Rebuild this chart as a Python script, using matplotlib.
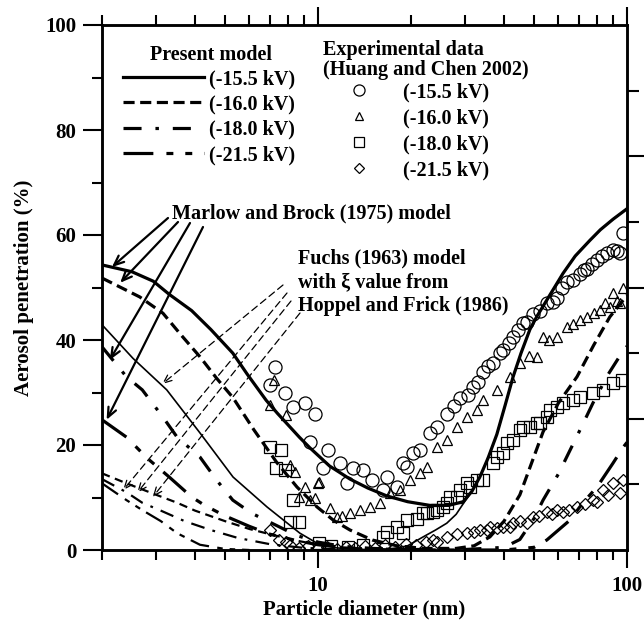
import numpy as np
import matplotlib
matplotlib.use("Agg")
import matplotlib.pyplot as plt
from matplotlib.ticker import FixedLocator, NullFormatter, FixedFormatter

plt.rcParams['font.family'] = ['Liberation Serif', 'DejaVu Serif']
plt.rcParams['font.weight'] = 'bold'
plt.rcParams['lines.scale_dashes'] = False

# ---------------- data ----------------
# Present model (thick lines)
pm155_x = [2, 2.5, 2.93, 3.3, 3.9, 4.5, 5.3, 5.9, 6.8, 7.4, 8.7, 9.4, 10.9, 12.7, 14.5, 16.7,
           19.5, 23, 26.5, 29.5, 31.5, 33.4, 35.5, 37.9, 40.3, 42.8, 45.4, 48.5, 51.1, 55, 62.1, 68,
           75.9, 82, 90.1, 100]
pm155_y = [54.3, 53.0, 51.2, 48.7, 45.6, 42.0, 37.5, 33.5, 28.5, 26.0, 21.5, 19.5, 16.0, 13.5, 11.8, 10.3,
           9.2, 8.5, 8.5, 9.2, 11.2, 13.9, 17.5, 22, 27.5, 33, 37.5, 42, 44.5, 47.6, 52.7, 56,
           59, 61, 63, 65]

pm160_x = [2, 2.65, 3.15, 3.6, 4.15, 4.7, 5.31, 6.2, 7.37, 8.55, 9.93, 11.2, 12.7, 15, 18, 22, 28, 32,
           36, 40, 45, 53.5, 60, 68.9, 78, 88, 100]
pm160_y = [51.8, 48.2, 45.1, 41, 36.8, 32.7, 29, 22.9, 16.6, 12, 8.2, 5.7, 3.8, 1.9, 0.8, 0.3, 0.3, 0.8,
           2.5, 5.5, 10.5, 22.5, 28, 33, 39, 44.4, 48.5]

pm180_x = [2, 2.4, 2.7, 3.15, 3.5, 4.15, 4.7, 5.3, 6.1, 7.5, 8.5, 10, 12, 15, 20, 30, 40, 45, 50, 53.5,
           60, 65.4, 72, 77.6, 87, 97.3, 100]
pm180_y = [38.7, 33, 30.5, 25.3, 21.5, 17.7, 13.3, 9.5, 7, 4.4, 2.8, 1.5, 0.7, 0.3, 0.1, 0.1, 0.5, 2,
           6, 9.5, 14.5, 19, 24, 28, 33.5, 38, 38.8]

pm215_x = [2, 2.4, 2.8, 3.3, 3.9, 4.3, 5, 6, 7, 8.5, 10, 12, 15, 25, 40, 50, 55, 65.4, 72, 80, 90,
           97.3, 100]
pm215_y = [24.8, 21.5, 17.5, 13.9, 10.1, 8.5, 6.5, 4.5, 3, 1.8, 1, 0.5, 0.2, 0, 0, 0.5, 1.9, 5.7, 9,
           12, 16.5, 19.6, 20.5]

# Fuchs (1963) model (thin lines)
fu155_x = [2, 2.52, 3.24, 4.15, 5.31, 6.84, 8.74, 9.93, 11.5, 13.5, 17, 19.5, 21.9, 24, 26.1, 28, 29.5,
           31.5, 33.4, 35.5, 37.9, 40.3, 42.8, 45.4, 48.5, 51.1, 55, 62.1, 68, 75.9, 82, 90.1, 100]
fu155_y = [42.9, 36.5, 30.5, 22.3, 13.9, 8.2, 3.2, 1.3, 0.4, 0.1, 0.1, 0.8, 2.5, 3.8, 5.1, 6.8, 8.8,
           11.2, 13.9, 17.5, 22, 27.5, 33, 37.5, 42, 44.5, 47.6, 52.7, 56, 59, 61, 63, 65]
fu160_x = [2, 2.4, 3, 3.5, 4, 5, 6, 7, 8.5, 10, 12, 15, 20]
fu160_y = [14.6, 12.7, 10.5, 9, 7.5, 5.5, 4, 3, 1.8, 1, 0.5, 0.2, 0]
fu180_x = [2, 2.4, 2.7, 3.1, 3.7, 4.5, 5.5, 7, 9, 12]
fu180_y = [13.5, 11, 9, 7.5, 5.5, 3.8, 2.3, 1.1, 0.4, 0.1]
fu215_x = [2, 2.4, 2.7, 3.1, 3.5, 4.15, 5, 6]
fu215_y = [12.7, 9.5, 7.6, 5.5, 3.2, 1, 0.2, 0]

# Experimental data (Huang and Chen 2002)
ex155_x = [7.0, 7.26, 7.8, 8.3, 9.1, 9.8, 9.4, 10.4, 10.8, 11.8, 12.4, 13.0, 14.0, 15.0, 16.2, 16.7,
           18.0, 18.8, 19.4, 20.3, 21.4, 23.0, 24.3, 26.1, 27.5, 28.8, 30.5, 31.8, 33.0, 34.2, 35.5,
           36.8, 38.8, 39.7, 41.5, 42.8, 44.5, 46.0, 47.5, 49.7, 52.3, 55.0, 57.5, 59.4, 61.5, 63.9,
           67.0, 70.4, 72.5, 74.3, 77.0, 80.2, 83.0, 86.3, 90.0, 93.0, 95.0, 97.3]
ex155_y = [31.4, 34.9, 29.9, 27.3, 28.0, 26.0, 20.6, 15.6, 19.0, 16.6, 12.8, 15.6, 15.2, 13.3, 11.4, 13.9,
           12.0, 16.6, 15.8, 18.5, 19.0, 22.3, 23.5, 26.0, 27.5, 29.0, 29.5, 31.0, 32.0, 34.0, 35.0,
           35.6, 37.5, 38.1, 39.5, 40.6, 42.0, 43.2, 43.5, 45.0, 45.5, 47.0, 47.3, 48.0, 50.0, 51.0,
           51.5, 52.5, 53.3, 53.5, 54.5, 55.2, 56.0, 56.6, 57.1, 57.0, 56.6, 60.4]
ex160_x = [7.2, 7.0, 7.9, 8.1, 8.4, 8.7, 9.1, 9.4, 9.8, 10.0, 10.1, 10.9, 11.5, 12.0, 12.7, 13.7, 14.7,
           15.9, 17.1, 18.4, 19.9, 21.4, 22.5, 24.3, 26.1, 28.2, 30.4, 32.7, 34.2, 37.9, 41.7, 45.0,
           48.0, 51.1, 53.5, 56.0, 59.4, 64.0, 67.0, 70.4, 74.3, 78.0, 81.6, 85.0, 88.0, 90.0, 93.0,
           95.0, 97.3]
ex160_y = [32.4, 27.6, 25.7, 16.2, 14.9, 10.1, 12.0, 9.5, 9.9, 12.8, 13.0, 8.0, 6.3, 6.5, 7.0, 7.6, 8.2,
           9.0, 10.9, 11.4, 13.3, 14.6, 15.8, 19.6, 21.0, 23.4, 25.3, 26.7, 28.6, 30.5, 33.0, 35.6,
           37.0, 36.8, 40.6, 40.0, 40.6, 42.5, 43.0, 43.8, 44.4, 45.2, 45.7, 47.0, 46.3, 49.0, 47.5,
           47.0, 50.0]
ex180_x = [7.0, 7.6, 7.3, 7.8, 8.3, 8.1, 8.7, 10.1, 11.0, 12.5, 14.0, 16.2, 16.7, 18.0, 18.8, 19.4,
           20.9, 21.9, 22.5, 23.6, 24.3, 25.4, 26.1, 26.7, 28.2, 28.8, 30.3, 31.0, 32.7, 34.2, 36.8,
           37.9, 39.7, 40.8, 42.8, 45.0, 46.0, 48.5, 51.1, 52.3, 55.0, 56.4, 59.4, 62.0, 66.9, 70.4,
           77.6, 83.6, 90.0, 96.0]
ex180_y = [19.6, 19.0, 15.6, 15.2, 9.5, 5.3, 5.3, 1.3, 0.8, 0.5, 1.0, 2.5, 3.5, 4.4, 3.2, 5.7,
           6.0, 7.0, 7.0, 7.2, 7.6, 8.2, 9.0, 10.1, 10.1, 11.4, 12.8, 12.0, 13.3, 13.3, 16.6,
           17.7, 18.5, 20.4, 21.0, 22.9, 23.4, 23.4, 24.2, 24.2, 25.3, 26.7, 27.2, 28.0, 28.6, 29.1,
           29.9, 30.5, 31.8, 32.4]
ex215_x = [7.0, 7.5, 7.9, 8.1, 8.7, 9.3, 10.0, 10.7, 11.5, 12.3, 13.2, 14.2, 15.3, 16.5, 17.8, 19.2,
           20.7, 22.3, 23.6, 24.3, 26.1, 28.2, 30.3, 32.0, 33.4, 35.2, 36.1, 38.0, 39.7, 41.7, 42.8,
           45.0, 47.5, 49.7, 52.0, 55.0, 57.0, 59.4, 62.0, 65.0, 68.9, 73.0, 77.6, 80.0, 83.6, 87.0,
           90.0, 95.0, 97.3]
ex215_y = [3.8, 1.9, 1.5, 1.0, 0.4, 0.8, 0.3, 0.5, 0.2, 0.6, 0.3, 0.8, 0.4, 0.9, 0.6, 1.2,
           0.9, 1.5, 1.9, 1.6, 2.5, 3.0, 3.2, 3.5, 3.8, 3.8, 4.4, 4.2, 4.4, 4.4, 5.1,
           5.5, 5.1, 6.3, 6.5, 7.2, 6.8, 7.6, 7.3, 7.6, 8.2, 8.8, 9.5, 9.2, 11.4, 10.5,
           12.8, 10.9, 13.3]

labels = ['(-15.5 kV)', '(-16.0 kV)', '(-18.0 kV)', '(-21.5 kV)']
x_ticks = [10, 100]
x_ticklabels = ['10', '100']
y_ticks = [0, 20, 40, 60, 80, 100]

# ---------------- figure ----------------
W, H = 644, 628
fig = plt.figure(figsize=(W / 100, H / 100), dpi=100)
ax = fig.add_axes([102 / W, 78 / H, 525 / W, 525 / H])
ax.set_xscale('log')
ax.set_xlim(2, 100)
ax.set_ylim(0, 100)

st155 = '-'
st160 = (0, (8, 4))
st180 = (0, (13, 10, 2.5, 10))
st215 = (0, (21.5, 9.4, 5, 8.6, 5, 8.6))

thick = 2.3
thin = 1.2
lp1, = ax.plot(pm155_x, pm155_y, color='black', lw=thick, ls=st155)
lp2, = ax.plot(pm160_x, pm160_y, color='black', lw=thick, ls=st160)
lp3, = ax.plot(pm180_x, pm180_y, color='black', lw=thick, ls=st180)
lp4, = ax.plot(pm215_x, pm215_y, color='black', lw=thick, ls=st215)

ax.plot(fu155_x, fu155_y, color='black', lw=thin, ls=st155)
ax.plot(fu160_x, fu160_y, color='black', lw=1.6, ls=(0, (6, 4)))
ax.plot(fu180_x, fu180_y, color='black', lw=1.6, ls=(0, (10, 6, 2, 6)))
ax.plot(fu215_x, fu215_y, color='black', lw=1.6, ls=(0, (14, 6, 4, 5, 4, 5)))

mk = dict(ls='none', color='black', mfc='none', mew=0.9)
m1, = ax.plot(ex155_x, ex155_y, marker='o', ms=9.4, **mk)
m2, = ax.plot(ex160_x, ex160_y, marker='^', ms=7.2, **mk)
m3, = ax.plot(ex180_x, ex180_y, marker='s', ms=8.6, **mk)
m4, = ax.plot(ex215_x, ex215_y, marker='D', ms=6.0, **mk)

fs = 14.5
# legends
leg1 = ax.legend([lp1, lp2, lp3, lp4], labels, loc='upper left',
                 bbox_to_anchor=((123 - 102) / 525, (550 - 69) / 525),
                 frameon=False, handlelength=4.0, handletextpad=0.25,
                 labelspacing=0.27, borderpad=0, borderaxespad=0,
                 prop=dict(family='Liberation Serif', weight='bold', size=fs))
ax.add_artist(leg1)
leg2 = ax.legend([m1, m2, m3, m4], labels, loc='upper left',
                 bbox_to_anchor=((347 - 102) / 525, (550 - 82) / 525),
                 frameon=False, handlelength=1.2, handletextpad=1.6,
                 labelspacing=0.3, borderpad=0, borderaxespad=0, markerscale=0.85,
                 prop=dict(family='Liberation Serif', weight='bold', size=fs))

def fx(px):
    return (px - 102) / 525

def fy(py):
    return (550 - py) / 525

ax.text(fx(211), fy(55), 'Present model', transform=ax.transAxes, ha='center', va='center',
        fontsize=fs, fontweight='bold')
ax.text(fx(323), fy(50), 'Experimental data', transform=ax.transAxes, ha='left', va='center',
        fontsize=fs, fontweight='bold')
ax.text(fx(323), fy(70), '(Huang and Chen 2002)', transform=ax.transAxes, ha='left', va='center',
        fontsize=fs, fontweight='bold')
ax.text(fx(172), fy(213), 'Marlow and Brock (1975) model', transform=ax.transAxes, ha='left',
        va='center', fontsize=fs, fontweight='bold')
ax.text(fx(298), fy(248), 'Fuchs (1963) model\nwith ξ value from\nHoppel and Frick (1986)',
        transform=ax.transAxes, ha='left', va='top', fontsize=fs, fontweight='bold',
        linespacing=1.27)

# Marlow and Brock arrows
mb_heads = [(2.154, 53.9), (2.29, 50.9), (2.12, 36.2), (2.07, 24.8)]
mb_tails = [(168, 218), (178, 222), (190, 223), (203, 227)]
for (hx, hy), (tx, ty) in zip(mb_heads, mb_tails):
    ax.annotate('', xy=(hx, hy), xycoords='data', xytext=(fx(tx), fy(ty)), textcoords='axes fraction',
                arrowprops=dict(arrowstyle='->,head_length=0.7,head_width=0.3', lw=1.6, color='black',
                                shrinkA=0, shrinkB=0))

# Fuchs arrows
fu_heads = [(3.13, 31.6), (2.34, 11.4), (2.60, 10.9), (2.92, 10.1)]
fu_tails = [(283, 285), (287, 293), (291, 301), (300, 313)]
for (hx, hy), (tx, ty) in zip(fu_heads, fu_tails):
    ax.annotate('', xy=(hx, hy), xycoords='data', xytext=(fx(tx), fy(ty)), textcoords='axes fraction',
                arrowprops=dict(arrowstyle='->,head_length=0.6,head_width=0.25', lw=0.9, color='black',
                                ls=(0, (5, 3)), shrinkA=0, shrinkB=0))

# axes styling
for s in ax.spines.values():
    s.set_linewidth(1.8)

ax.xaxis.set_major_locator(FixedLocator(x_ticks))
ax.xaxis.set_major_formatter(FixedFormatter(x_ticklabels))
ax.xaxis.set_minor_locator(FixedLocator([2, 3, 4, 5, 6, 7, 8, 9, 20, 30, 40, 50, 60, 70, 80, 90]))
ax.xaxis.set_minor_formatter(NullFormatter())
ax.yaxis.set_major_locator(FixedLocator(y_ticks))
ax.yaxis.set_minor_locator(FixedLocator([10, 30, 50, 70, 90]))

ax.tick_params(axis='x', which='major', direction='out', length=13, width=1.5, top=True, pad=6,
               labelsize=15)
ax.tick_params(axis='x', which='minor', direction='out', length=7, width=1.5, top=True)
ax.tick_params(axis='y', which='major', direction='out', length=13.5, width=1.5, right=False, pad=5,
               labelsize=15)
ax.tick_params(axis='y', which='minor', direction='out', length=7, width=1.5, right=False)
for t in ax.get_xticklabels() + ax.get_yticklabels():
    t.set_fontweight('bold')

ax2 = ax.twinx()
ax2.set_ylim(0, 100)
ax2.yaxis.set_major_locator(FixedLocator([25, 50, 75]))
ax2.yaxis.set_minor_locator(FixedLocator([12.5, 37.5, 62.5, 87.5]))
ax2.yaxis.set_major_formatter(NullFormatter())
ax2.tick_params(axis='y', which='major', direction='out', length=12, width=1.5)
ax2.tick_params(axis='y', which='minor', direction='out', length=8.5, width=1.5)
for s in ax2.spines.values():
    s.set_linewidth(1.8)

ax.set_xlabel('Particle diameter (nm)', fontsize=15, fontweight='bold', labelpad=2)
ax.set_ylabel('Aerosol penetration (%)', fontsize=15, fontweight='bold', labelpad=8)

fig.savefig('out.png', dpi=100)
